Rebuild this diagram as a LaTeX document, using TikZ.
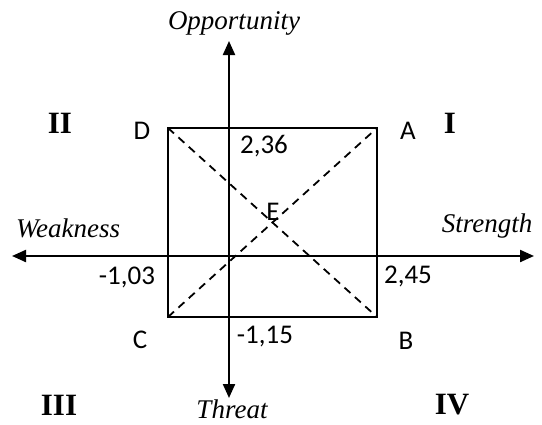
\documentclass[tikz,border=0pt]{standalone}
\usepackage{fontspec}
\setmainfont{Liberation Serif}
\newfontfamily\calib{Carlito}
\usetikzlibrary{arrows.meta}
\tikzset{
  axis/.style={line width=2.2pt,{Triangle[length=14pt,width=12pt]}-{Triangle[length=14pt,width=12pt]}},
  boxline/.style={line width=2.2pt},
  diag/.style={line width=1.8pt,dash pattern=on 8pt off 6pt},
  axlabel/.style={inner sep=0pt,font=\fontsize{27}{30}\selectfont\itshape},
  quad/.style={inner sep=0pt,font=\fontsize{31}{34}\selectfont\bfseries},
  val/.style={inner sep=0pt,font=\calib\fontsize{27}{30}\selectfont},
}
\begin{document}
\begin{tikzpicture}[x=1pt,y=-1pt]
\useasboundingbox (0,0) rectangle (542,424);
\coordinate (O) at (229,256);
\coordinate (top) at (229,41);
\coordinate (bot) at (229,398);
\coordinate (lft) at (12,256);
\coordinate (rgt) at (534,256);
\coordinate (D) at (168,128);
\coordinate (A) at (377,128);
\coordinate (B) at (377,317);
\coordinate (C) at (168,317);
\draw[boxline] (D) -- (A) -- (B) -- (C) -- cycle;
\draw[diag] (D) -- (B);
\draw[diag] (C) -- (A);
\draw[axis] (bot) -- (top);
\draw[axis] (lft) -- (rgt);
\node[axlabel] (lopp) at (234,23) {Opportunity};
\node[axlabel] (lthr) at (232,409) {Threat};
\node[axlabel] (lwea) at (68,228) {Weakness};
\node[axlabel] (lstr) at (487,226) {Strength};
\node[quad] (q2) at (60,123) {II};
\node[quad] (q1) at (450,123) {I};
\node[quad] (q3) at (59,405) {III};
\node[quad] (q4) at (452,405) {IV};
\node[val] (nD) at (142,131) {D};
\node[val] (nA) at (408,131) {A};
\node[val] (nC) at (140,340) {C};
\node[val] (nB) at (406,341) {B};
\node[val] (nE) at (273,212) {E};
\node[val] (v1) at (264,146) {2,36};
\node[val] (v2) at (127,277) {-1,03};
\node[val] (v3) at (408,276) {2,45};
\node[val] (v4) at (265,337) {-1,15};
\end{tikzpicture}
\end{document}
